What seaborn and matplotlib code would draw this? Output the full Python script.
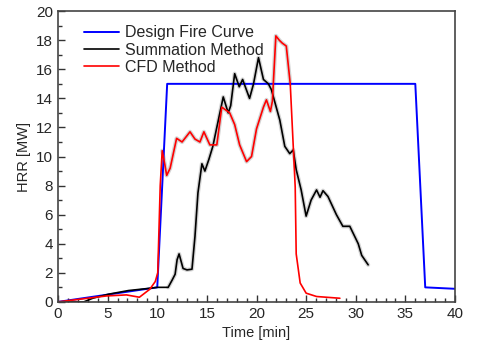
import numpy as np
import pandas as pd
import matplotlib
matplotlib.use("Agg")
import matplotlib.pyplot as plt
from matplotlib.ticker import MultipleLocator
import seaborn as sns

# ---- data ----
design_t = [0, 10, 11, 36, 37, 40]
design_v = [0, 1.0, 15, 15, 1.0, 0.9]

sum_t = [0, 2.6, 3.5, 5.1, 7.1, 9.3, 10.0, 11.1, 11.5, 11.8, 12.0, 12.2, 12.6, 13.0, 13.5,
         13.8, 14.1, 14.5, 14.8, 15.2, 15.6, 16.0, 16.65, 17.15, 17.4, 17.8, 18.26, 18.6,
         19.3, 19.7, 20.2, 20.7, 21.2, 21.5, 22.35, 22.85, 23.35, 23.7, 24.0, 24.5, 25.0,
         25.5, 26.05, 26.4, 26.7, 27.2, 28.05, 28.7, 29.4, 30.25, 30.6, 31.25]
sum_v = [0, 0, 0.25, 0.53, 0.78, 0.94, 1.0, 1.0, 1.5, 1.9, 2.9, 3.3, 2.3, 2.2, 2.25,
         4.5, 7.5, 9.5, 9.0, 9.8, 10.7, 12.0, 14.1, 13.0, 13.5, 15.7, 14.8, 15.3,
         14.0, 15.0, 16.8, 15.3, 15.0, 14.6, 12.5, 10.7, 10.2, 10.45, 9.1, 7.7, 5.9,
         7.0, 7.7, 7.2, 7.65, 7.25, 6.0, 5.2, 5.2, 4.0, 3.2, 2.55]

cfd_t = [0, 4.9, 6.9, 8.2, 9.25, 9.8, 10.05, 10.3, 10.5, 10.75, 10.95, 11.3, 11.95, 12.5,
         13.3, 13.8, 14.3, 14.7, 15.3, 16.0, 16.5, 17.3, 17.8, 18.3, 19.0, 19.5, 20.0,
         20.7, 21.0, 21.4, 21.6, 21.95, 22.3, 22.6, 23.0, 23.4, 23.9, 24.0, 24.4, 25.0,
         26.05, 28.4]
cfd_v = [0, 0.41, 0.48, 0.32, 0.87, 1.4, 2.0, 8.0, 10.4, 9.5, 8.7, 9.2, 11.25, 11.0,
         11.7, 11.2, 11.0, 11.7, 10.8, 10.8, 13.4, 13.0, 12.2, 10.8, 9.65, 10.0, 11.9,
         13.4, 13.9, 13.1, 13.8, 18.3, 18.0, 17.8, 17.6, 15.0, 7.9, 3.3, 1.3, 0.6,
         0.37, 0.25]

x_ticks = [0, 5, 10, 15, 20, 25, 30, 35, 40]
y_ticks = [0, 2, 4, 6, 8, 10, 12, 14, 16, 18, 20]

sns.set_style("ticks")
plt.rcParams['font.family'] = ['Liberation Sans', 'DejaVu Sans']

fig = plt.figure(figsize=(5.0, 3.49), dpi=100)
ax = fig.add_axes([0.116, 0.135, 0.794, 0.833])

df_sum = pd.DataFrame({"t": sum_t, "v": sum_v})
df_cfd = pd.DataFrame({"t": cfd_t, "v": cfd_v})
df_des = pd.DataFrame({"t": design_t, "v": design_v})

# light grey halo (raw data noise impression)
sns.lineplot(data=df_sum[df_sum.t >= 11], x="t", y="v", ax=ax, color="#d4d4d4",
             lw=3.0, sort=False, estimator=None, legend=False)
sns.lineplot(data=df_cfd[(df_cfd.t >= 10.5) & (df_cfd.t <= 23.8)], x="t", y="v", ax=ax,
             color="#d4d4d4", lw=3.0, sort=False, estimator=None, legend=False)

sns.lineplot(data=df_des, x="t", y="v", ax=ax, color="#0000ff", lw=1.4, sort=False,
             estimator=None, label="Design Fire Curve")
sns.lineplot(data=df_sum, x="t", y="v", ax=ax, color="black", lw=1.2, sort=False,
             estimator=None, label="Summation Method")
sns.lineplot(data=df_cfd, x="t", y="v", ax=ax, color="#ff0000", lw=1.2, sort=False,
             estimator=None, label="CFD Method")

ax.set_xlim(0, 40)
ax.set_ylim(0, 20)
ax.set_xticks(x_ticks)
ax.set_yticks(y_ticks)
ax.xaxis.set_minor_locator(MultipleLocator(1))
ax.yaxis.set_minor_locator(MultipleLocator(1))
ax.tick_params(which="major", direction="in", length=5, width=1, labelsize=11, color="#333333")
ax.tick_params(which="minor", direction="in", length=3, width=1, color="#333333")
ax.set_xlabel("Time [min]", fontsize=10.5)
ax.set_ylabel("HRR [MW]", fontsize=10.5)
for s in ax.spines.values():
    s.set_visible(True)
    s.set_color("#444444")
    s.set_linewidth(1.2)

leg = ax.legend(loc="upper left", frameon=False, fontsize=11.5, handlelength=2.2,
                handletextpad=0.4, labelspacing=0.15, borderaxespad=0.3,
                bbox_to_anchor=(0.037, 0.99))

fig.savefig("out.png", dpi=100)
